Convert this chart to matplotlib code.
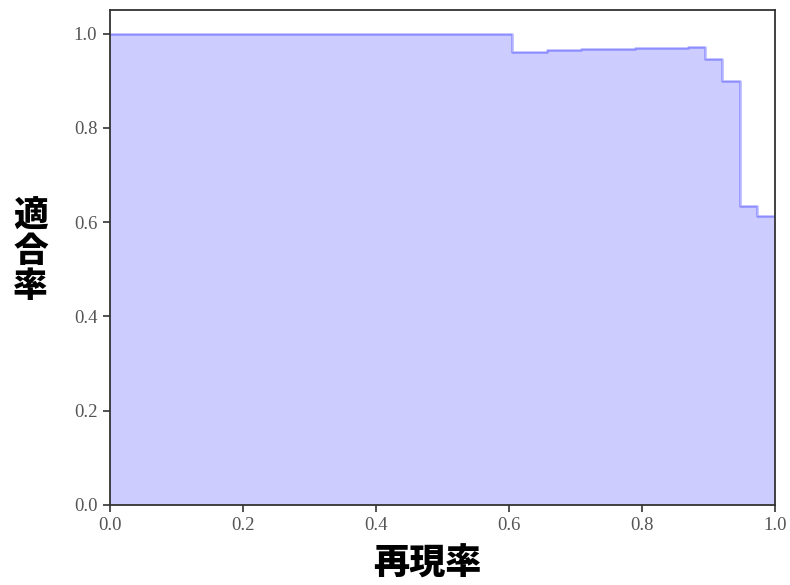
import matplotlib
matplotlib.use('Agg')
import matplotlib.pyplot as plt

# recall / precision points of the PR curve (step, post)
recall = [0.0, 0.604, 0.657, 0.709, 0.789, 0.869, 0.895, 0.920, 0.947, 0.973, 1.0]
precision = [1.0, 0.960, 0.964, 0.967, 0.969, 0.972, 0.946, 0.900, 0.634, 0.613, 0.613]

xticks = [0.0, 0.2, 0.4, 0.6, 0.8, 1.0]
yticks = [0.0, 0.2, 0.4, 0.6, 0.8, 1.0]

fig = plt.figure(figsize=(7.9, 5.85), dpi=100)
ax = fig.add_axes([0.139, 0.137, 0.842, 0.846])

ax.step(recall, precision, color='b', alpha=0.3, where='post', linewidth=1.8)
ax.fill_between(recall, precision, step='post', alpha=0.2, color='b', linewidth=0)

ax.set_xlim(0.0, 1.0)
ax.set_ylim(0.0, 1.05)
ax.set_xticks(xticks)
ax.set_yticks(yticks)
ax.set_xticklabels(['%.1f' % t for t in xticks], family='Liberation Serif', fontsize=13.5, color='#555555')
ax.set_yticklabels(['%.1f' % t for t in yticks], family='Liberation Serif', fontsize=13.5, color='#555555')
ax.tick_params(direction='out', length=5, width=1.2, colors='#333333', labelcolor='#555555', pad=4)
for s in ax.spines.values():
    s.set_linewidth(1.3)
    s.set_color('#333333')

ax.set_xlabel('再現率', family='Noto Sans CJK JP', fontweight='black', fontsize=26)
ax.set_ylabel('適\n合\n率', family='Noto Sans CJK JP', fontweight='black', fontsize=25,
              rotation=0, linespacing=1.0, va='center', ha='center')
ax.xaxis.set_label_coords(0.478, -0.083)
ax.yaxis.set_label_coords(-0.119, 0.512)

fig.savefig('out.png', dpi=100)
